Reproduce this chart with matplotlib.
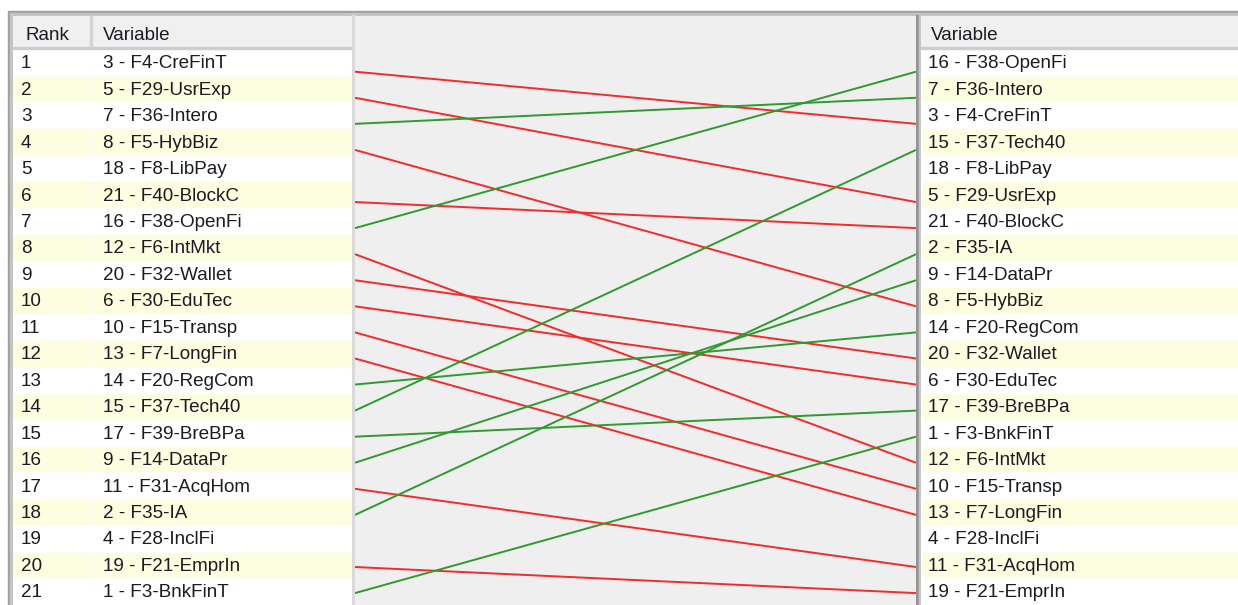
import numpy as np
import matplotlib
matplotlib.use("Agg")
import matplotlib.pyplot as plt
from matplotlib.patches import Rectangle

# variable names by id
names = {1: "F3-BnkFinT", 2: "F35-IA", 3: "F4-CreFinT", 4: "F28-InclFi", 5: "F29-UsrExp",
         6: "F30-EduTec", 7: "F36-Intero", 8: "F5-HybBiz", 9: "F14-DataPr", 10: "F15-Transp",
         11: "F31-AcqHom", 12: "F6-IntMkt", 13: "F7-LongFin", 14: "F20-RegCom", 15: "F37-Tech40",
         16: "F38-OpenFi", 17: "F39-BreBPa", 18: "F8-LibPay", 19: "F21-EmprIn", 20: "F32-Wallet",
         21: "F40-BlockC"}

# ranking order, left list and right list
left_ids = [3, 5, 7, 8, 18, 21, 16, 12, 20, 6, 10, 13, 14, 15, 17, 9, 11, 2, 4, 19, 1]
right_ids = [16, 7, 3, 15, 18, 5, 21, 2, 9, 8, 14, 20, 6, 17, 1, 12, 10, 13, 4, 11, 19]
ranks = list(range(1, len(left_ids) + 1))

W, H = 1238, 605
FONT = "Liberation Sans"
FS = 13.6
TXT = "#1c1a22"
YELLOW = "#fdfde0"
HEADER = "#f0f0f0"
RED = "#f52a2a"
GREEN = "#2f9a2f"

fig = plt.figure(figsize=(W / 100, H / 100), dpi=100)


def box(x0, y0, x1, y1):
    # pixel box -> figure fraction
    return [x0 / W, 1 - y1 / H, (x1 - x0) / W, (y1 - y0) / H]


# background / frame
bg = fig.add_axes([0, 0, 1, 1])
bg.set_xlim(0, W)
bg.set_ylim(H, 0)
bg.axis("off")
bg.add_patch(Rectangle((8, 11), W - 8, H - 11, color="#a0a0a0"))
bg.add_patch(Rectangle((10, 13), W - 10, H - 13, color="#c4c4c4"))
bg.add_patch(Rectangle((352, 15), 3, H, color="#dadada"))
bg.add_patch(Rectangle((916, 15), 5, H, color="#949494"))
bg.add_patch(Rectangle((919, 15), 2, H, color="#c8c8c8"))

# row units: row r spans [r-1, r], row height 26.45px starting at y=49
def u(p):
    return (p - 49) / 26.45

utop, ubot = u(16), u(H)


def draw_table(x0, x1, seps, col_text, header_text):
    ax = fig.add_axes(box(x0, 16, x1, H))
    ax.set_xlim(x0, x1)
    ax.set_ylim(ubot, utop)
    ax.axis("off")
    ax.add_patch(Rectangle((x0, utop), x1 - x0, ubot - utop, color="white"))
    # header
    ax.add_patch(Rectangle((x0, utop), x1 - x0, u(47) - utop, color=HEADER))
    ax.add_patch(Rectangle((x0, u(46.5)), x1 - x0, u(49) - u(46.5), color="#cdcdcd"))
    for sx in seps:
        ax.add_patch(Rectangle((sx, utop), 1.5, u(47) - utop, color="#d4d4d4"))
    for tx, ht in zip(col_text, header_text):
        ax.text(tx, u(35.5), ht, fontsize=FS, family=FONT, color=TXT, va="center")
    return ax


# left table
axl = draw_table(13, 352, [90], [25, 103], ["Rank", "Variable"])
for r, vid in zip(ranks, left_ids):
    if r % 2 == 0:
        axl.add_patch(Rectangle((13, r - 1 + 0.04), 77.5, 0.93, color=YELLOW))
        axl.add_patch(Rectangle((92.5, r - 1 + 0.04), 260, 0.93, color=YELLOW))
    axl.text(21, r - 0.44, str(r), fontsize=FS, family=FONT, color=TXT, va="center")
    axl.text(103, r - 0.44, f"{vid} - {names[vid]}", fontsize=FS, family=FONT,
             color=TXT, va="center")

# right table
axr = draw_table(921, W, [], [931], ["Variable"])
for r, vid in zip(ranks, right_ids):
    if r % 2 == 0:
        axr.add_patch(Rectangle((923, r - 1 + 0.04), W - 923, 0.93, color=YELLOW))
    axr.text(928, r - 0.44, f"{vid} - {names[vid]}", fontsize=FS, family=FONT,
             color=TXT, va="center")

# middle panel with the rank change lines
axm = fig.add_axes(box(355, 16, 916, H))
axm.set_facecolor("#efefef")
axm.set_xlim(0, 1)
# rank 1 -> y=71.7px, spacing 26.07px
axm.set_ylim(1 + (H - 71.7) / 26.07, 1 + (16 - 71.7) / 26.07)
axm.set_xticks([])
axm.set_yticks([])
for s in axm.spines.values():
    s.set_visible(False)

for r, vid in zip(ranks, left_ids):
    r2 = right_ids.index(vid) + 1
    if r2 == r:
        continue
    col = RED if r2 > r else GREEN
    axm.plot([0, 1], [r, r2], color=col, lw=1.4, solid_capstyle="butt")

fig.savefig("out.png", dpi=100)
